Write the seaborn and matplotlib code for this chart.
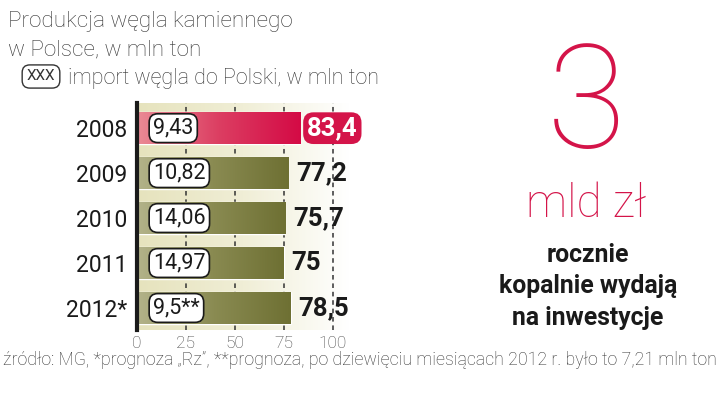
import numpy as np
import pandas as pd
import matplotlib
matplotlib.use("Agg")
import matplotlib.pyplot as plt
from matplotlib.colors import LinearSegmentedColormap
import seaborn as sns

years = ["2008", "2009", "2010", "2011", "2012*"]
production = [83.4, 77.2, 75.7, 75, 78.5]
production_labels = ["83,4", "77,2", "75,7", "75", "78,5"]
imports = [9.43, 10.82, 14.06, 14.97, 9.5]
import_labels = ["9,43", "10,82", "14,06", "14,97", "9,5**"]
xticks = [0, 25, 50, 75, 100]

sns.set_theme(style="white")
plt.rcParams["font.family"] = ["Roboto", "DejaVu Sans"]

W, H = 720, 396
fig = plt.figure(figsize=(W / 100, H / 100), dpi=100)
fig.patch.set_facecolor("white")

def fx(px):
    return px / W

def fy(py):
    return 1 - py / H

ax_l, ax_r, ax_t, ax_b = 137, 362, 103, 330
ax = fig.add_axes([fx(ax_l), fy(ax_b), (ax_r - ax_l) / W, (ax_b - ax_t) / H])

df = pd.DataFrame({"year": years, "production": production})
CRIMSON = "#d41449"
OLIVE = "#727436"
palette = [CRIMSON] + [OLIVE] * 4
sns.barplot(data=df, y="year", x="production", hue="year", palette=palette,
            legend=False, orient="h", width=0.71, ax=ax, zorder=3,
            saturation=1)

xmax = 115
ax.set_xlim(0, xmax)
ax.set_ylim(4.49, -0.56)

# background gradient
bg_cmap = LinearSegmentedColormap.from_list("bg", ["#e6e3bd", "#f0eed6", "#ffffff"])
grad = np.linspace(0, 1, 256).reshape(1, -1)
ax.imshow(grad, extent=(0, 108, 4.49, -0.56), aspect="auto", cmap=bg_cmap,
          zorder=0, interpolation="bilinear")
ax.set_xlim(0, xmax)
ax.set_ylim(4.49, -0.56)

# bar gradients
cmaps = [LinearSegmentedColormap.from_list("r", ["#ea8a95", "#dc3e62", "#d40a45"]),
         LinearSegmentedColormap.from_list("o", ["#b3b38a", "#8a8b52", "#6e7033"])]
for i, p in enumerate(ax.patches):
    x0, y0 = p.get_x(), p.get_y()
    w, h = p.get_width(), p.get_height()
    cm = cmaps[0] if i == 0 else cmaps[1]
    im = ax.imshow(grad, extent=(x0, x0 + w, y0 + h, y0), aspect="auto",
                   cmap=cm, zorder=3.5, interpolation="bilinear")
    im.set_clip_path(p)

# dashed gridlines
for t in xticks[1:]:
    ax.axvline(t, color="#333333", lw=1.1, ls=(0, (3, 2.5)), zorder=1)

for s in ["top", "right", "bottom"]:
    ax.spines[s].set_visible(False)
ax.spines["left"].set_color("#1a1a1a")
ax.spines["left"].set_linewidth(3)
ax.spines["left"].set_zorder(6)

ax.set_xticks(xticks)
ax.set_xticklabels([str(t) for t in xticks], fontsize=12.5, color="#444444",
                   fontweight="light")
ax.tick_params(axis="x", length=0, pad=4)
ax.set_yticks(range(len(years)))
ax.set_yticklabels(years, fontsize=16.5, color="#1a1a1a")
ax.tick_params(axis="y", length=0, pad=7)
ax.set_xlabel("")
ax.set_ylabel("")

# labels
for i, (v, lab, il) in enumerate(zip(production, production_labels, import_labels)):
    ax.text(8.2, i, il, ha="left", va="center", fontsize=15.5, color="#1a1a1a",
            zorder=7,
            bbox=dict(boxstyle="round,pad=0.18,rounding_size=0.4", fc="white",
                      ec="#1a1a1a", lw=1.2))
    if i == 0:
        ax.text(v + 3.5, i, lab, ha="left", va="center", fontsize=18.5,
                fontweight="bold", color="white", zorder=7,
                bbox=dict(boxstyle="round,pad=0.15,rounding_size=0.4",
                          fc=CRIMSON, ec="none"))
    else:
        ax.text(v + 4, i, lab, ha="left", va="center", fontsize=18.5,
                fontweight="bold", color="#1a1a1a", zorder=7)

# header texts
hdr = dict(fontsize=16.2, color="#333333", fontweight="light", va="baseline")
fig.text(fx(8), fy(27), "Produkcja węgla kamiennego", **hdr)
fig.text(fx(8), fy(55), "w Polsce, w mln ton", **hdr)
fig.text(fx(41), fy(80.5), "XXX", ha="center", va="baseline", fontsize=11,
         color="#333333",
         bbox=dict(boxstyle="round,pad=0.3,rounding_size=0.5", fc="white",
                   ec="#333333", lw=1))
fig.text(fx(68), fy(84), "import węgla do Polski, w mln ton", fontsize=15.5,
         color="#333333", fontweight="light", va="baseline")

# right side
fig.text(fx(586), fy(148), "3", ha="center", va="baseline", fontsize=104,
         color=CRIMSON, fontweight="light")
fig.text(fx(586), fy(217), "mld zł", ha="center", va="baseline", fontsize=33,
         color=CRIMSON, fontweight="light")
for txt, by in [("rocznie", 262), ("kopalnie wydają", 293), ("na inwestycje", 325)]:
    fig.text(fx(588), fy(by), txt, ha="center", va="baseline", fontsize=17.8,
             fontweight="bold", color="#1a1a1a")

# footer
fig.text(fx(3), fy(365),
         "źródło: MG, *prognoza „Rz”, **prognoza, po dziewięciu miesiącach 2012 r. było to 7,21 mln ton",
         ha="left", va="baseline", fontsize=12.8, color="#333333", fontweight="light")

fig.savefig("out.png", dpi=100, facecolor="white")
